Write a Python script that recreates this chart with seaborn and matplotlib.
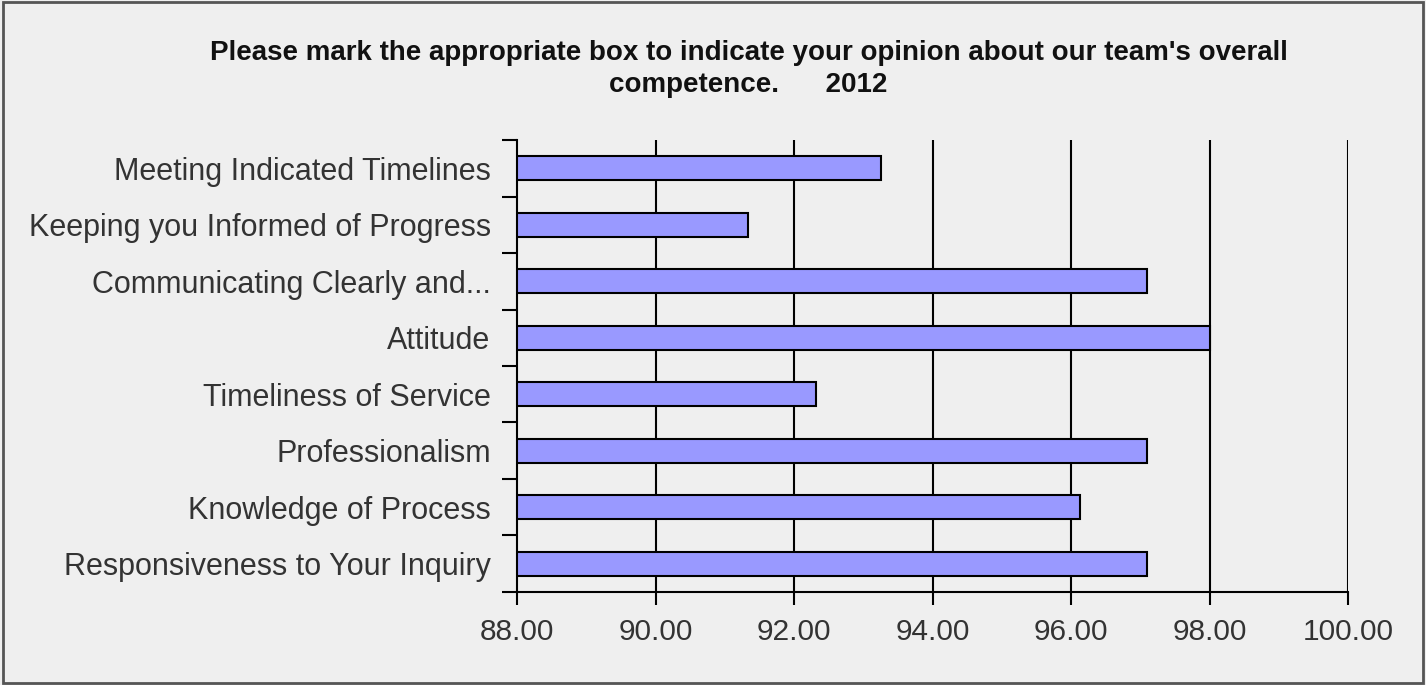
import numpy as np
import pandas as pd
import matplotlib
matplotlib.use("Agg")
import matplotlib.pyplot as plt
import seaborn as sns
from matplotlib.patches import Rectangle

categories = [
    "Meeting Indicated Timelines",
    "Keeping you Informed of Progress",
    "Communicating Clearly and...",
    "Attitude",
    "Timeliness of Service",
    "Professionalism",
    "Knowledge of Process",
    "Responsiveness to Your Inquiry",
]
scores = [93.26, 91.33, 97.10, 98.00, 92.32, 97.10, 96.13, 97.10]
x_ticks = [88, 90, 92, 94, 96, 98, 100]

title_text = ("Please mark the appropriate box to indicate your opinion about our team's overall\n"
              "competence.      2012")

sns.set_theme(style="white")
plt.rcParams['font.family'] = ['Liberation Sans', 'DejaVu Sans']

bg = "#efefef"
df = pd.DataFrame({"item": categories, "score": scores})

fig = plt.figure(figsize=(14.26, 6.85), dpi=100, facecolor=bg)
ax = fig.add_axes([0.3626, 0.1358, 0.5827, 0.6598])
ax.set_facecolor(bg)

sns.barplot(data=df, x="score", y="item", orient="h", color="#9999ff",
            saturation=1, edgecolor="black", linewidth=1.5, width=0.43, ax=ax)

ax.set_xlim(88, 100)
ax.set_ylim(len(categories) - 0.5, -0.5)
ax.set_xticks(x_ticks)
ax.set_xticklabels([f"{v:.2f}" for v in x_ticks], fontsize=21.5, color="#333333")
ax.set_yticks(range(len(categories)))
ax.set_yticklabels(categories, fontsize=22, color="#333333")
ax.set_yticks(np.arange(-0.5, len(categories)), minor=True)
ax.tick_params(axis="y", which="major", length=0, pad=19)
ax.tick_params(axis="y", which="minor", length=11, width=1.5, color="black", direction="out", left=True)
ax.tick_params(axis="x", which="major", length=9, width=1.5, color="black", direction="out", bottom=True, pad=10)
ax.set_xlabel("")
ax.set_ylabel("")

for v in x_ticks[1:]:
    ax.axvline(v, color="black", linewidth=1.5, zorder=0)

for side in ["top", "right"]:
    ax.spines[side].set_visible(False)
for side in ["left", "bottom"]:
    ax.spines[side].set_color("black")
    ax.spines[side].set_linewidth(1.5)

fig.text(0.525, 0.9, title_text, ha="center", va="center", fontsize=20,
         fontweight="bold", linespacing=1.3, color="#111111")

fig.patches.append(Rectangle((0.002, 0.003), 0.996, 0.994, transform=fig.transFigure,
                             fill=False, edgecolor="#555555", linewidth=2))

fig.savefig("out.png", dpi=100, facecolor=bg)
